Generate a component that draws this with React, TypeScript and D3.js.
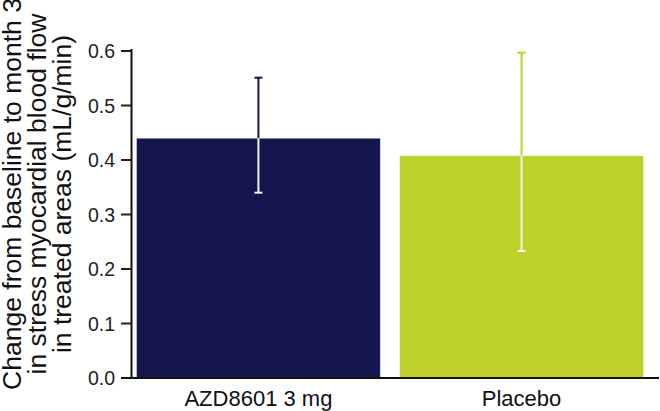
import React from "react";
import * as d3 from "d3";

const categories = ["AZD8601 3 mg", "Placebo"];
const values = [0.44, 0.408];
const lowerCI = [0.34, 0.233];
const upperCI = [0.551, 0.597];
const colors = ["#15164d", "#bdd229"];
const yTicks = [0, 0.1, 0.2, 0.3, 0.4, 0.5, 0.6];
const yLabelLines = [
  "Change from baseline to month 3",
  "in stress myocardial blood flow",
  "in treated areas (mL/g/min)",
];

const W = 660;
const H = 411;
const FONT = "'Liberation Sans', Arial, Helvetica, sans-serif";

export default function App() {
  const x = d3
    .scaleBand<string>()
    .domain(categories)
    .range([131.7, 648.3])
    .paddingInner(0.073)
    .paddingOuter(0.018);
  const y = d3.scaleLinear().domain([0, 0.6]).range([378, 51]);
  const axisX = 131.5;
  const capW = 8;

  return (
    <svg
      width={W}
      height={H}
      style={{ position: "absolute", left: 0, top: 0, background: "#fff" }}
      fontFamily={FONT}
    >
      {/* bars */}
      {categories.map((c, i) => (
        <rect
          key={c}
          x={x(c)!}
          y={y(values[i])}
          width={x.bandwidth()}
          height={y(0) - y(values[i])}
          fill={colors[i]}
          stroke="#ffffff"
          strokeOpacity={0.5}
          strokeWidth={1}
        />
      ))}
      {/* error bars */}
      {categories.map((c, i) => {
        const cx = x(c)! + x.bandwidth() / 2;
        const top = y(upperCI[i]);
        const bot = y(lowerCI[i]);
        const barTop = y(values[i]);
        return (
          <g key={c + "err"}>
            <line x1={cx} x2={cx} y1={top} y2={barTop} stroke={colors[i]} strokeWidth={2} />
            <line x1={cx} x2={cx} y1={barTop} y2={bot} stroke="#f4f4f4" strokeWidth={2} />
            <line x1={cx - capW / 2} x2={cx + capW / 2} y1={top} y2={top} stroke={colors[i]} strokeWidth={2} />
            <line x1={cx - capW / 2} x2={cx + capW / 2} y1={bot} y2={bot} stroke="#f4f4f4" strokeWidth={2} />
          </g>
        );
      })}
      {/* y axis */}
      <line x1={axisX} x2={axisX} y1={y(0.6) - 2} y2={y(0)} stroke="#111" strokeWidth={2} />
      {yTicks.map((t) => (
        <g key={t}>
          <line x1={121} x2={axisX} y1={y(t)} y2={y(t)} stroke="#222" strokeWidth={2} />
          <text
            x={115}
            y={y(t)}
            dy="0.36em"
            textAnchor="end"
            fontSize={19.5}
            fill="#222"
          >
            {t.toFixed(1)}
          </text>
        </g>
      ))}
      {/* x axis */}
      <line x1={121} x2={659} y1={y(0)} y2={y(0)} stroke="#111" strokeWidth={2} />
      {categories.map((c) => (
        <text
          key={c + "lbl"}
          x={x(c)! + x.bandwidth() / 2}
          y={405.5}
          textAnchor="middle"
          fontSize={22}
          fill="#111"
        >
          {c}
        </text>
      ))}
      {/* y label */}
      {yLabelLines.map((l, i) => (
        <text
          key={l}
          transform={`translate(${[21, 46, 71][i]},194) rotate(-90)`}
          textAnchor="middle"
          fontSize={26.5}
          fill="#111"
        >
          {l}
        </text>
      ))}
    </svg>
  );
}
